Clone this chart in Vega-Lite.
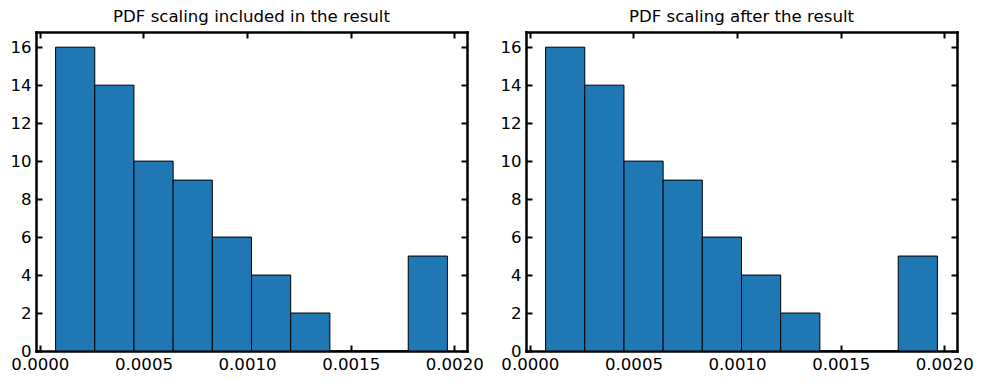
{
  "$schema": "https://vega.github.io/schema/vega-lite/v6.json",
  "padding": {"left": 9, "top": 9, "right": 0, "bottom": 0},
  "background": "white",
  "datasets": {
    "hist": [
      {"bin_start": 0.0000759, "bin_end": 0.0002650, "count": 16},
      {"bin_start": 0.0002650, "bin_end": 0.0004541, "count": 14},
      {"bin_start": 0.0004541, "bin_end": 0.0006432, "count": 10},
      {"bin_start": 0.0006432, "bin_end": 0.0008323, "count": 9},
      {"bin_start": 0.0008323, "bin_end": 0.0010214, "count": 6},
      {"bin_start": 0.0010214, "bin_end": 0.0012105, "count": 4},
      {"bin_start": 0.0012105, "bin_end": 0.0013996, "count": 2},
      {"bin_start": 0.0013996, "bin_end": 0.0015887, "count": 0},
      {"bin_start": 0.0015887, "bin_end": 0.0017778, "count": 0},
      {"bin_start": 0.0017778, "bin_end": 0.0019669, "count": 5}
    ]
  },
  "config": {
    "font": "DejaVu Sans",
    "view": {"stroke": null},
    "axis": {
      "grid": false,
      "domainColor": "black",
      "domainWidth": 2.5,
      "domainCap": "square",
      "tickColor": "black",
      "tickWidth": 2,
      "tickSize": -6,
      "labelPadding": 11,
      "labelFont": "DejaVu Sans",
      "labelFontSize": 16.6,
      "labelColor": "black",
      "title": null
    },
    "title": {"font": "DejaVu Sans", "fontSize": 16.6, "fontWeight": "normal", "color": "black", "offset": 5}
  },
  "spacing": 15,
  "hconcat": [
    {
      "title": "PDF scaling included in the result",
      "width": 431,
      "height": 319,
      "data": {"name": "hist"},
      "layer": [
        {
          "mark": {"type": "bar", "color": "#1f77b4", "stroke": "black", "strokeWidth": 1},
          "encoding": {
            "x": {"field": "bin_start", "type": "quantitative", "scale": {"domain": [-0.0000187, 0.0020615], "nice": false, "zero": false},
                  "axis": {"orient": "bottom", "values": [0, 0.0005, 0.001, 0.0015, 0.002], "format": ".4f"}},
            "x2": {"field": "bin_end"},
            "y": {"field": "count", "type": "quantitative", "scale": {"domain": [0, 16.8], "nice": false},
                  "axis": {"orient": "left", "values": [0, 2, 4, 6, 8, 10, 12, 14, 16]}},
            "y2": {"datum": 0}
          }
        },
        {
          "mark": {"type": "bar", "opacity": 0},
          "encoding": {
            "x": {"field": "bin_start", "type": "quantitative",
                  "axis": {"orient": "top", "values": [0, 0.0005, 0.001, 0.0015, 0.002], "labels": false}},
            "x2": {"field": "bin_end"},
            "y": {"field": "count", "type": "quantitative",
                  "axis": {"orient": "right", "values": [0, 2, 4, 6, 8, 10, 12, 14, 16], "labels": false}},
            "y2": {"datum": 0}
          }
        }
      ],
      "resolve": {"axis": {"x": "independent", "y": "independent"}}
    },
    {
      "title": "PDF scaling after the result",
      "width": 431,
      "height": 319,
      "data": {"name": "hist"},
      "layer": [
        {
          "mark": {"type": "bar", "color": "#1f77b4", "stroke": "black", "strokeWidth": 1},
          "encoding": {
            "x": {"field": "bin_start", "type": "quantitative", "scale": {"domain": [-0.0000187, 0.0020615], "nice": false, "zero": false},
                  "axis": {"orient": "bottom", "values": [0, 0.0005, 0.001, 0.0015, 0.002], "format": ".4f"}},
            "x2": {"field": "bin_end"},
            "y": {"field": "count", "type": "quantitative", "scale": {"domain": [0, 16.8], "nice": false},
                  "axis": {"orient": "left", "values": [0, 2, 4, 6, 8, 10, 12, 14, 16]}},
            "y2": {"datum": 0}
          }
        },
        {
          "mark": {"type": "bar", "opacity": 0},
          "encoding": {
            "x": {"field": "bin_start", "type": "quantitative",
                  "axis": {"orient": "top", "values": [0, 0.0005, 0.001, 0.0015, 0.002], "labels": false}},
            "x2": {"field": "bin_end"},
            "y": {"field": "count", "type": "quantitative",
                  "axis": {"orient": "right", "values": [0, 2, 4, 6, 8, 10, 12, 14, 16], "labels": false}},
            "y2": {"datum": 0}
          }
        }
      ],
      "resolve": {"axis": {"x": "independent", "y": "independent"}}
    }
  ]
}
